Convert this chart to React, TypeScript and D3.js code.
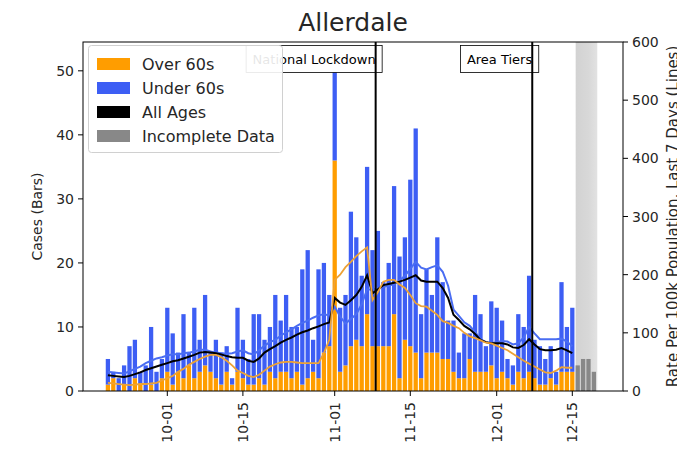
import React from 'react';
import * as d3 from 'd3';

// ---------- data ----------
const firstDay = '2020-09-20';
const over60 = [1,2,0,1,0,2,1,0,1,0, 2,3,1,3,2,4,2,3,4,3, 2,1,3,1,3,2,1,1,2,1, 3,2,3,3,2,3,1,2,3,2, 6,7,36,3,4,7,8,7,12,7, 7,7,7,12,2,8,7,6,2,6, 6,6,5,5,3,2,2,5,3,3, 3,4,2,3,2,1,3,2,3,2, 1,1,2,1,3,3,3];
const under60 = [4,1,2,3,7,6,2,4,9,3, 3,10,8,3,10,2,11,5,11,3, 6,5,4,1,10,6,4,11,10,7, 7,13,8,12,8,7,18,20,5,17, 14,8,15,10,11,21,16,11,23,15, 18,10,13,20,19,16,26,35,10,13, 9,18,12,6,8,4,7,4,12,9, 4,10,11,8,3,3,9,8,15,6, 6,4,5,2,14,7,10];
const incompleteFirstDay = '2020-12-16';
const incomplete = [4,5,5,3];
const rateAll = [27,26,25,24,26,29,32,36,39,42, 45,48,51,53,56,59,62,66,67,66, 65,63,60,58,57,57,52,50,56,66, 72,77,83,88,92,97,101,104,108,111, 115,118,160,152,148,156,165,179,199,168, 175,182,184,186,188,191,195,199,190,188, 188,188,177,160,131,122,112,106,98,88, 84,82,82,82,80,75,74,79,89,80, 72,70,70,71,74,70,65];
const rateOver60 = [14,13,12,11,10,11,12,12,13,14, 18,22,26,33,38,45,50,55,59,62, 62,58,52,44,35,31,26,24,28,35, 42,46,49,50,50,49,48,48,48,48, 65,88,191,200,213,222,232,240,247,156, 170,188,191,191,183,177,165,151,146,145, 138,131,120,117,112,108,100,94,91,87, 83,82,78,74,70,64,58,52,47,42, 37,32,31,35,41,40,40];
const rateUnder60 = [33,32,31,30,34,38,42,48,52,56, 58,61,63,63,65,66,68,71,71,68, 66,65,64,65,68,70,65,63,70,78, 84,88,95,101,106,112,117,121,126,130, 132,130,145,128,116,124,132,149,175,174, 177,179,181,184,190,198,210,222,212,209, 213,216,205,181,140,129,118,112,101,89, 84,82,84,86,85,80,82,92,110,99, 89,89,89,89,90,85,77];
const xDomain = ['2020-09-15T09:20:00Z', '2020-12-24T09:20:00Z'];
const xTickDates = ['2020-10-01', '2020-10-15', '2020-11-01', '2020-11-15', '2020-12-01', '2020-12-15'];
const xTickLabels = ['10-01', '10-15', '11-01', '11-15', '12-01', '12-15'];
const leftTicks = [0, 10, 20, 30, 40, 50];
const rightTicks = [0, 100, 200, 300, 400, 500, 600];
const eventLabels = ['National Lockdown', 'Area Tiers'];
const eventDates = ['2020-11-08T14:00:00Z', '2020-12-07T14:00:00Z'];
const shadeDates = ['2020-12-15T15:00:00Z', '2020-12-19T15:00:00Z'];
const legendLabels = ['Over 60s', 'Under 60s', 'All Ages', 'Incomplete Data'];

// ---------- style ----------
const C_ORANGE = '#ff9d00';
const C_BLUE = '#3d5ef4';
const C_GREY = '#888888';
const C_OLINE = '#eda235';
const C_BLINE = '#4a6df2';
const legendColors = [C_ORANGE, C_BLUE, '#000000', C_GREY];
const FONT = 'DejaVu Sans, Verdana, sans-serif';

const W = 677, H = 451;
const L = 83, R = 623, T = 42, B = 391;

function measure(text: string, size: number): number {
  if (typeof document === 'undefined') return text.length * size * 0.6;
  const c = document.createElement('canvas').getContext('2d');
  if (!c) return text.length * size * 0.6;
  c.font = `${size}px "DejaVu Sans"`;
  return c.measureText(text).width;
}

export default function App() {
  const x = d3.scaleUtc().domain(xDomain.map((s) => new Date(s))).range([L, R]);
  const yL = d3.scaleLinear().domain([0, 54.5]).range([B, T]);
  const yR = d3.scaleLinear().domain([0, 600]).range([B, T]);
  const start = new Date(firstDay + 'T00:00:00Z');
  const days = over60.map((_, i) => d3.utcDay.offset(start, i));
  const incStart = new Date(incompleteFirstDay + 'T00:00:00Z');
  const incDays = incomplete.map((_, i) => d3.utcDay.offset(incStart, i));
  const bw = x(d3.utcHour.offset(start, 24 * 0.8)) - x(start);

  const line = (vals: number[]) =>
    d3.line<number>().x((_, i) => x(days[i])).y((v) => yR(v))(vals) || '';

  const evFont = 13;
  const s0 = x(new Date(shadeDates[0]));
  const s1 = x(new Date(shadeDates[1]));

  return (
    <svg width={W} height={H} style={{ position: 'absolute', left: 0, top: 0, background: '#fff' }} fontFamily={FONT}>
      <defs>
        <linearGradient id="shade" x1="0" x2="1" y1="0" y2="0">
          <stop offset="0" stopColor="#d2d2d2" />
          <stop offset="0.6" stopColor="#d8d8d8" />
          <stop offset="1" stopColor="#e2e2e2" />
        </linearGradient>
      </defs>
      <rect x={0} y={0} width={W} height={H} fill="#fff" />
      {/* incomplete shading */}
      <rect x={s0} y={T} width={s1 - s0} height={B - T} fill="url(#shade)" />
      {/* bars */}
      {days.map((d, i) => (
        <g key={i}>
          <rect x={x(d) - bw / 2} width={bw} y={yL(over60[i])} height={yL(0) - yL(over60[i])} fill={C_ORANGE} />
          <rect x={x(d) - bw / 2} width={bw} y={yL(over60[i] + under60[i])} height={yL(over60[i]) - yL(over60[i] + under60[i])} fill={C_BLUE} />
        </g>
      ))}
      {incDays.map((d, i) => (
        <rect key={'g' + i} x={x(d) - bw / 2} width={bw} y={yL(incomplete[i])} height={yL(0) - yL(incomplete[i])} fill={C_GREY} />
      ))}
      {/* lines */}
      <path d={line(rateUnder60)} fill="none" stroke={C_BLINE} strokeWidth={2} />
      <path d={line(rateAll)} fill="none" stroke="#000" strokeWidth={2} />
      <path d={line(rateOver60)} fill="none" stroke={C_OLINE} strokeWidth={1.8} />
      {/* event boxes and lines */}
      {eventDates.map((s, i) => {
        const ex = x(new Date(s));
        const w = measure(eventLabels[i], evFont);
        return (
          <g key={'e' + i}>
            <rect x={ex - w - 6.5} y={45.5} width={w + 13} height={27} fill="#fff" stroke="#000" strokeWidth={0.8} />
            <text x={ex} y={63.5} fontSize={evFont} textAnchor="end" fill="#000">{eventLabels[i]}</text>
          </g>
        );
      })}
      {eventDates.map((s, i) => (
        <line key={'el' + i} x1={x(new Date(s))} x2={x(new Date(s))} y1={T} y2={B} stroke="#000" strokeWidth={2} />
      ))}
      {/* frame */}
      <rect x={L} y={T} width={R - L} height={B - T} fill="none" stroke="#000" strokeWidth={1} />
      {/* left axis */}
      {leftTicks.map((t) => (
        <g key={'l' + t}>
          <line x1={L - 5} x2={L} y1={yL(t)} y2={yL(t)} stroke="#000" strokeWidth={1} />
          <text x={L - 9} y={yL(t)} dy="0.36em" fontSize={14} textAnchor="end" fill="#262626">{t}</text>
        </g>
      ))}
      {/* right axis */}
      {rightTicks.map((t) => (
        <g key={'r' + t}>
          <line x1={R} x2={R + 5} y1={yR(t)} y2={yR(t)} stroke="#000" strokeWidth={1} />
          <text x={R + 9} y={yR(t)} dy="0.36em" fontSize={14} textAnchor="start" fill="#262626">{t}</text>
        </g>
      ))}
      {/* x axis */}
      {xTickDates.map((s, i) => {
        const tx = x(new Date(s + 'T00:00:00Z'));
        return (
          <g key={'x' + i}>
            <line x1={tx} x2={tx} y1={B} y2={B + 5} stroke="#000" strokeWidth={1} />
            <text transform={`translate(${tx},${B + 11}) rotate(-90)`} dy="0.36em" fontSize={14} textAnchor="end" fill="#262626">{xTickLabels[i]}</text>
          </g>
        );
      })}
      {/* axis labels */}
      <text transform={`translate(42,${(T + B) / 2}) rotate(-90)`} fontSize={14} textAnchor="middle" fill="#262626">Cases (Bars)</text>
      <text transform={`translate(678,${(T + B) / 2}) rotate(-90)`} fontSize={15} textAnchor="middle" fill="#262626">Rate Per 100k Population, Last 7 Days (Lines)</text>
      {/* title */}
      <text x={(L + R) / 2} y={31} fontSize={25} textAnchor="middle" fill="#262626">Allerdale</text>
      {/* legend */}
      <g>
        <rect x={88.5} y={45.5} width={194} height={107} rx={3} fill="#fff" fillOpacity={0.9} stroke="#d0d0d0" strokeWidth={1} />
        {legendLabels.map((lab, i) => {
          const cy = 64 + i * 24;
          return (
            <g key={'lg' + i}>
              <rect x={97} y={cy - 6} width={33} height={12} fill={legendColors[i]} />
              <text x={142} y={cy} dy="0.36em" fontSize={16} fill="#262626">{lab}</text>
            </g>
          );
        })}
      </g>
    </svg>
  );
}
